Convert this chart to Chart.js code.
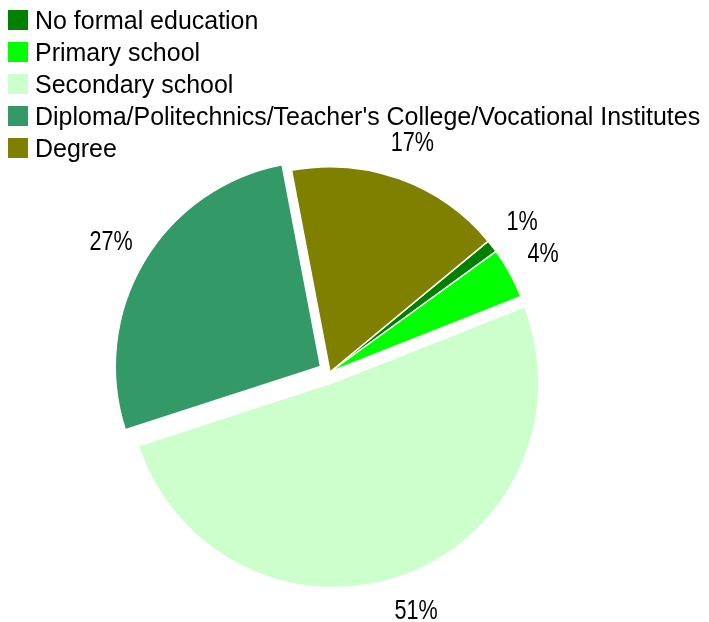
<!DOCTYPE html>
<html>
<head>
<meta charset="utf-8">
<title>Education level</title>
<script src="https://cdn.jsdelivr.net/npm/chart.js@4.4.0/dist/chart.umd.min.js"></script>
<style>
  html, body { margin: 0; padding: 0; background: #fff; }
  #wrap { position: relative; width: 709px; height: 622px; }
</style>
</head>
<body>
<div id="wrap"><canvas id="education"></canvas></div>
<script>
const categories = [
  'No formal education',
  'Primary school',
  'Secondary school',
  "Diploma/Politechnics/Teacher's College/Vocational Institutes",
  'Degree'
];
const shares = [1, 4, 51, 27, 17];
const sliceColors = ['#008000', '#00ff00', '#ccffcc', '#339966', '#808000'];

// how far each slice is pulled out from the centre, px
const explode = [0, 0, 11, 11, 0];

const FONT = '"Liberation Sans", Arial, sans-serif';

const explodePlugin = {
  id: 'explode',
  afterDatasetUpdate(chart, args) {
    args.meta.data.forEach((arc, i) => {
      const d = explode[i] || 0;
      if (!d) return;
      const mid = (arc.startAngle + arc.endAngle) / 2;
      arc.x += Math.cos(mid) * d;
      arc.y += Math.sin(mid) * d;
    });
  }
};

// percentages outside the pie
const labelPlugin = {
  id: 'outsideLabels',
  afterDatasetsDraw(chart) {
    const ctx = chart.ctx;
    const meta = chart.getDatasetMeta(0);
    const total = shares.reduce((a, b) => a + b, 0);
    ctx.save();
    ctx.fillStyle = '#000';
    ctx.font = '27px ' + FONT;
    ctx.textAlign = 'center';
    ctx.textBaseline = 'middle';
    meta.data.forEach((arc, i) => {
      const mid = (arc.startAngle + arc.endAngle) / 2;
      const r = arc.outerRadius + 38;
      ctx.save();
      ctx.translate(arc.x + Math.cos(mid) * r, arc.y + Math.sin(mid) * r);
      ctx.scale(0.8, 1);
      ctx.fillText(Math.round(shares[i] / total * 100) + '%', 0, 0);
      ctx.restore();
    });
    ctx.restore();
  }
};

// one item per line, top left
const legendPlugin = {
  id: 'stackedLegend',
  afterDraw(chart) {
    const ctx = chart.ctx;
    ctx.save();
    ctx.font = '26px ' + FONT;
    ctx.textBaseline = 'alphabetic';
    categories.forEach((name, i) => {
      const top = 10 + i * 32;
      ctx.fillStyle = sliceColors[i];
      ctx.fillRect(8, top, 20, 20);
      ctx.fillStyle = '#000';
      ctx.save();
      ctx.translate(35, top + 19);
      ctx.scale(0.96, 1);
      ctx.fillText(name, 0, 0);
      ctx.restore();
    });
    ctx.restore();
  }
};

new Chart(document.getElementById('education'), {
  type: 'pie',
  data: {
    labels: categories,
    datasets: [{
      data: shares,
      backgroundColor: sliceColors,
      borderColor: '#fff',
      borderWidth: 1.5
    }]
  },
  options: {
    responsive: true,
    maintainAspectRatio: false,
    animation: false,
    rotation: 50.4,
    layout: { padding: { left: 80, right: 129, top: 166, bottom: 44 } },
    plugins: {
      legend: { display: false },
      tooltip: { enabled: false }
    }
  },
  plugins: [explodePlugin, labelPlugin, legendPlugin]
});
</script>
</body>
</html>
